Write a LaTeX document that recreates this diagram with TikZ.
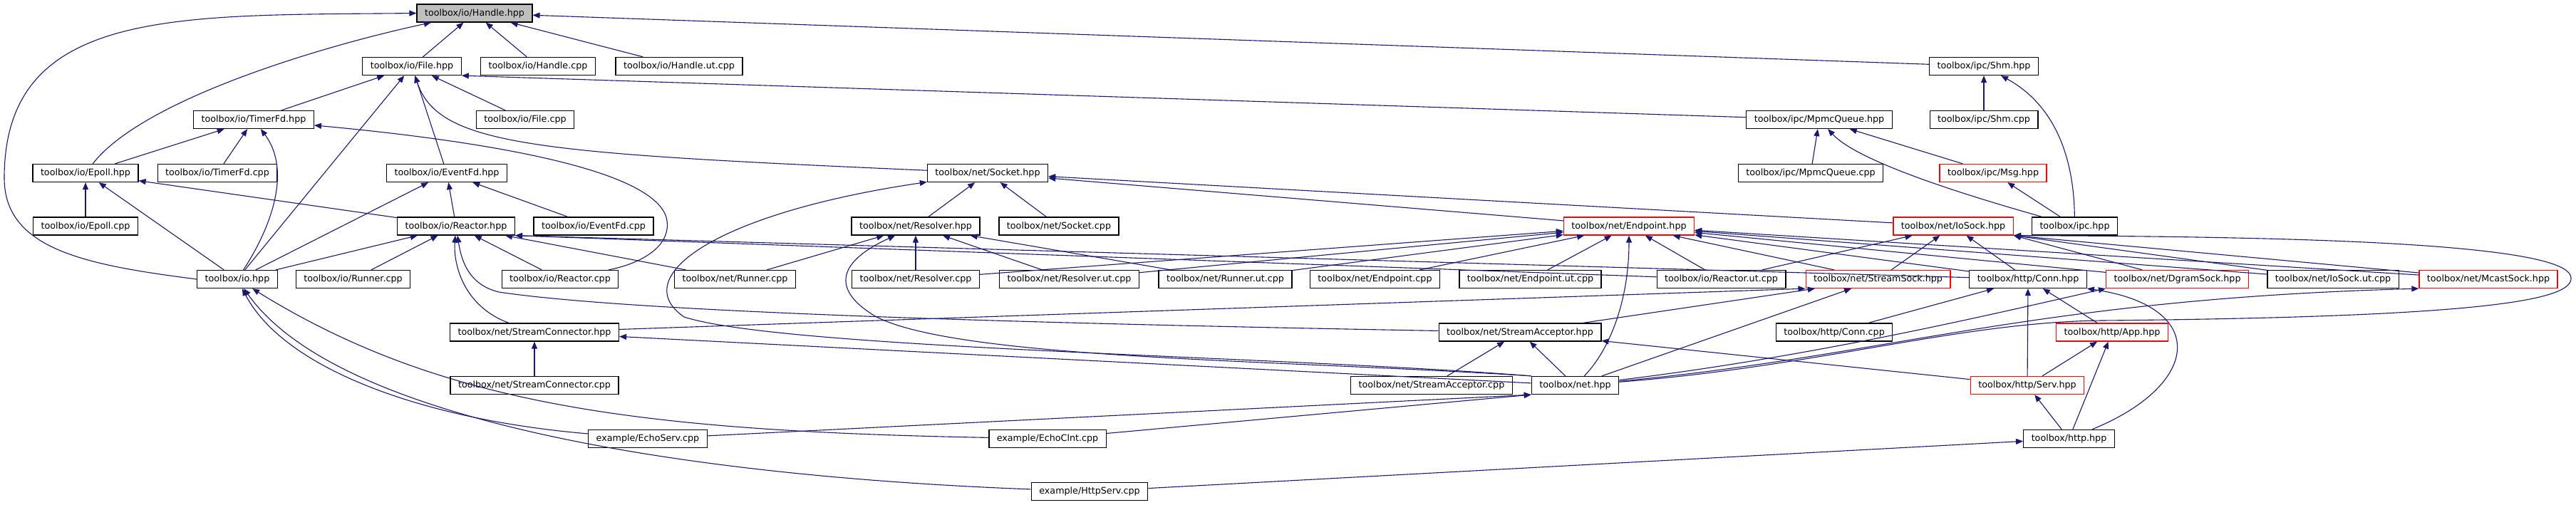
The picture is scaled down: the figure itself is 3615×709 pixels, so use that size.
\documentclass[tikz,border=0pt]{standalone}
\usepackage{fontspec}
\setmainfont{DejaVu Sans}
\usetikzlibrary{arrows.meta}
\definecolor{edgeblue}{RGB}{25,25,112}

\begin{document}
\begin{tikzpicture}[x=1pt,y=-1pt,font=\fontsize{12.7}{15}\selectfont,>={Triangle[length=10pt,width=8pt]},
  fn/.style={draw=black,line width=1.3pt,fill=white,minimum height=25pt,inner xsep=11pt,inner ysep=0pt},
  rn/.style={fn,draw=red},
  dep/.style={->,edgeblue,line width=1.1pt}]
\useasboundingbox (0,0) rectangle (3615,709);
\node[fn,fill=gray!50] (handle) at (666,18.5) {toolbox/io/Handle.hpp};
\node[fn] (file) at (578,93) {toolbox/io/File.hpp};
\node[fn] (hcpp) at (755,93) {toolbox/io/Handle.cpp};
\node[fn] (hut) at (953,93) {toolbox/io/Handle.ut.cpp};
\node[fn] (shm) at (2784,93) {toolbox/ipc/Shm.hpp};
\node[fn] (timerfd) at (356,168) {toolbox/io/TimerFd.hpp};
\node[fn] (fcpp) at (737,168) {toolbox/io/File.cpp};
\node[fn] (mpmc) at (2553,168) {toolbox/ipc/MpmcQueue.hpp};
\node[fn] (shmcpp) at (2784,168) {toolbox/ipc/Shm.cpp};
\node[fn] (epoll) at (120,243) {toolbox/io/Epoll.hpp};
\node[fn] (tcpp) at (305,243) {toolbox/io/TimerFd.cpp};
\node[fn] (eventfd) at (627,243) {toolbox/io/EventFd.hpp};
\node[fn] (socket) at (1386,243) {toolbox/net/Socket.hpp};
\node[fn] (mpmccpp) at (2541,243) {toolbox/ipc/MpmcQueue.cpp};
\node[rn] (msg) at (2797,243) {toolbox/ipc/Msg.hpp};
\node[fn] (epollcpp) at (120,317.5) {toolbox/io/Epoll.cpp};
\node[fn] (reactor) at (640,317.5) {toolbox/io/Reactor.hpp};
\node[fn] (efcpp) at (833,317.5) {toolbox/io/EventFd.cpp};
\node[fn] (resolver) at (1285,317.5) {toolbox/net/Resolver.hpp};
\node[fn] (scpp) at (1486,317.5) {toolbox/net/Socket.cpp};
\node[rn] (endpoint) at (2286,317.5) {toolbox/net/Endpoint.hpp};
\node[rn] (iosock) at (2741,317.5) {toolbox/net/IoSock.hpp};
\node[fn] (ipc) at (2911.5,317.5) {toolbox/ipc.hpp};
\node[fn] (io) at (333,392) {toolbox/io.hpp};
\node[fn] (iorun) at (495.5,392) {toolbox/io/Runner.cpp};
\node[fn] (rcpp) at (786,392) {toolbox/io/Reactor.cpp};
\node[fn] (nrun) at (1031.5,392) {toolbox/net/Runner.cpp};
\node[fn] (rescpp) at (1285,392) {toolbox/net/Resolver.cpp};
\node[fn] (resut) at (1500.5,392) {toolbox/net/Resolver.ut.cpp};
\node[fn] (runut) at (1719.5,392) {toolbox/net/Runner.ut.cpp};
\node[fn] (endcpp) at (1929.5,392) {toolbox/net/Endpoint.cpp};
\node[fn] (endut) at (2147.5,392) {toolbox/net/Endpoint.ut.cpp};
\node[fn] (rut) at (2415.5,392) {toolbox/io/Reactor.ut.cpp};
\node[rn] (ssock) at (2635.5,392) {toolbox/net/StreamSock.hpp};
\node[fn] (conn) at (2846,392) {toolbox/http/Conn.hpp};
\node[rn] (dgram) at (3055.5,392) {toolbox/net/DgramSock.hpp};
\node[fn] (iosut) at (3274,392) {toolbox/net/IoSock.ut.cpp};
\node[rn] (mcast) at (3492,392) {toolbox/net/McastSock.hpp};
\node[fn] (conr) at (750,466.5) {toolbox/net/StreamConnector.hpp};
\node[fn] (acc) at (2133,466.5) {toolbox/net/StreamAcceptor.hpp};
\node[fn] (conncpp) at (2574,466.5) {toolbox/http/Conn.cpp};
\node[rn] (app) at (2964,466.5) {toolbox/http/App.hpp};
\node[fn] (conrcpp) at (750,541) {toolbox/net/StreamConnector.cpp};
\node[fn] (acccpp) at (2009,541) {toolbox/net/StreamAcceptor.cpp};
\node[fn] (net) at (2210.5,541) {toolbox/net.hpp};
\node[rn] (serv) at (2845,541) {toolbox/http/Serv.hpp};
\node[fn] (echoserv) at (909,616) {example/EchoServ.cpp};
\node[fn] (echoclnt) at (1470,616) {example/EchoClnt.cpp};
\node[fn] (http) at (2903.5,616) {toolbox/http.hpp};
\node[fn] (httpserv) at (1529,690) {example/HttpServ.cpp};

\draw[dep](file)--(handle);
\draw[dep](hcpp)--(handle);
\draw[dep](hut)--(handle);
\draw[dep](shm)--(handle);
\draw[dep](epoll) .. controls (200,140) and (450,65) .. (handle);
\draw[dep](io.west) .. controls (120,372) and (6,350) .. (6,250) .. controls (6,10) and (250,22) .. (handle.west);
\draw[dep](timerfd)--(file);
\draw[dep](io)--(file);
\draw[dep](eventfd)--(file);
\draw[dep](fcpp)--(file);
\draw[dep](mpmc)--(file.south east);
\draw[dep](socket) .. controls (750,215) and (615,205) .. (file);
\draw[dep](epoll)--(timerfd);
\draw[dep](tcpp)--(timerfd);
\draw[dep](io) .. controls (380,320) and (410,240) .. (timerfd);
\draw[dep](rcpp) .. controls (900,370) and (945,345) .. (935,305) .. controls (915,240) and (700,200) .. (timerfd);
\draw[dep](epollcpp)--(epoll);
\draw[dep](io)--(epoll);
\draw[dep](reactor)--(epoll);
\draw[dep](io)--(eventfd);
\draw[dep](reactor)--(eventfd);
\draw[dep](efcpp)--(eventfd);
\draw[dep](io)--(reactor);
\draw[dep](iorun)--(reactor);
\draw[dep](rcpp)--(reactor);
\draw[dep](nrun)--(reactor);
\draw[dep](rut)--(reactor.south east);
\draw[dep](conn)--(reactor.south east);
\draw[dep](conr) .. controls (650,430) and (636,370) .. (reactor);
\draw[dep](acc) .. controls (1500,455) and (900,440) .. (700,410) .. controls (660,400) and (648,370) .. (reactor);
\draw[dep](resolver)--(socket);
\draw[dep](scpp)--(socket);
\draw[dep](endpoint)--(socket);
\draw[dep](iosock)--(socket);
\draw[dep](net.north west) .. controls (1800,500) and (1100,490) .. (960,445) .. controls (880,390) and (1000,300) .. (socket);
\draw[dep](nrun)--(resolver);
\draw[dep](rescpp)--(resolver);
\draw[dep](resut)--(resolver);
\draw[dep](runut)--(resolver);
\draw[dep](net.north west) .. controls (1800,505) and (1350,505) .. (1230,445) .. controls (1170,410) and (1170,370) .. (resolver);
\draw[dep](rescpp)--(endpoint);
\draw[dep](resut)--(endpoint);
\draw[dep](runut)--(endpoint);
\draw[dep](endcpp)--(endpoint);
\draw[dep](endut)--(endpoint);
\draw[dep](rut)--(endpoint);
\draw[dep](ssock)--(endpoint);
\draw[dep](conn)--(endpoint);
\draw[dep](dgram)--(endpoint);
\draw[dep](iosut)--(endpoint);
\draw[dep](mcast)--(endpoint);
\draw[dep](net) .. controls (2260,490) and (2286,420) .. (endpoint);
\draw[dep](rut)--(iosock);
\draw[dep](ssock)--(iosock);
\draw[dep](conn)--(iosock);
\draw[dep](dgram)--(iosock.south east);
\draw[dep](iosut)--(iosock.south east);
\draw[dep](mcast)--(iosock.south east);
\draw[dep](net) .. controls (2550,515) and (2750,452) .. (2950,450) .. controls (3500,445) and (3610,420) .. (3608,390) .. controls (3606,340) and (3200,332) .. (iosock.south east);
\draw[dep](msg)--(mpmc);
\draw[dep](mpmccpp)--(mpmc);
\draw[dep](ipc) .. controls (2780,280) and (2610,230) .. (mpmc);
\draw[dep](shmcpp)--(shm);
\draw[dep](ipc) .. controls (2910,200) and (2870,140) .. (shm);
\draw[dep](ipc)--(msg);
\draw[dep](conrcpp)--(conr);
\draw[dep](net)--(conr);
\draw[dep](conr)--(ssock.south west);
\draw[dep](acc)--(ssock);
\draw[dep](net)--(ssock);
\draw[dep](acccpp)--(acc);
\draw[dep](net)--(acc);
\draw[dep](serv)--(acc);
\draw[dep](conncpp)--(conn);
\draw[dep](serv)--(conn);
\draw[dep](app)--(conn);
\draw[dep](http) .. controls (3090,540) and (3100,430) .. (conn.south east);
\draw[dep](serv)--(app);
\draw[dep](http)--(app);
\draw[dep](http)--(serv);
\draw[dep](net) .. controls (2550,500) and (2800,440) .. (dgram.south west);
\draw[dep](net) .. controls (2650,500) and (2850,420) .. (mcast.south west);
\draw[dep](echoserv) .. controls (600,590) and (400,520) .. (io);
\draw[dep](echoclnt) .. controls (900,605) and (620,570) .. (io);
\draw[dep](httpserv) .. controls (1000,670) and (480,600) .. (io);
\draw[dep](echoserv)--(net.south west);
\draw[dep](echoclnt)--(net.south west);
\draw[dep](httpserv)--(http);
\end{tikzpicture}
\end{document}
